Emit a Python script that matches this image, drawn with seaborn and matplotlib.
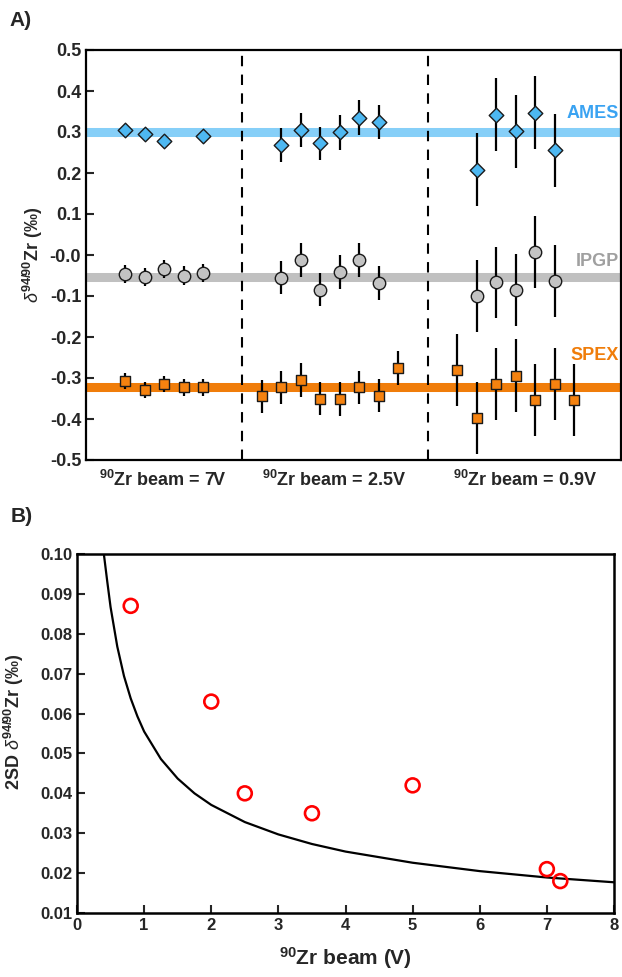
import numpy as np
import pandas as pd
import matplotlib
matplotlib.use("Agg")
import matplotlib.pyplot as plt
import seaborn as sns

# ---- panel A data: delta 94/90 Zr per run, three beam sizes ----
ames_run = [2, 3, 4, 6, 10, 11, 12, 13, 14, 15, 20, 21, 22, 23, 24]
ames_val = [0.305, 0.294, 0.277, 0.290,
            0.268, 0.305, 0.272, 0.299, 0.335, 0.324,
            0.208, 0.342, 0.302, 0.347, 0.255]
ames_err = [0.010, 0.010, 0.010, 0.010,
            0.041, 0.041, 0.040, 0.042, 0.042, 0.042,
            0.089, 0.089, 0.089, 0.089, 0.089]

ipgp_run = [2, 3, 4, 5, 6, 10, 11, 12, 13, 14, 15, 20, 21, 22, 23, 24]
ipgp_val = [-0.046, -0.053, -0.035, -0.050, -0.044,
            -0.055, -0.012, -0.085, -0.041, -0.012, -0.069,
            -0.100, -0.067, -0.085, 0.007, -0.063]
ipgp_err = [0.022, 0.022, 0.022, 0.022, 0.022,
            0.041, 0.041, 0.040, 0.041, 0.041, 0.041,
            0.087, 0.087, 0.087, 0.087, 0.087]

spex_run = [2, 3, 4, 5, 6, 9, 10, 11, 12, 13, 14, 15, 16, 19, 20, 21, 22, 23, 24, 25]
spex_val = [-0.307, -0.329, -0.315, -0.323, -0.323,
            -0.345, -0.323, -0.305, -0.350, -0.351, -0.323, -0.343, -0.275,
            -0.280, -0.398, -0.315, -0.294, -0.354, -0.315, -0.354]
spex_err = [0.020, 0.020, 0.020, 0.020, 0.020,
            0.041, 0.041, 0.041, 0.041, 0.041, 0.041, 0.041, 0.041,
            0.088, 0.088, 0.088, 0.088, 0.088, 0.088, 0.088]

lab_mean = {"AMES": 0.300, "IPGP": -0.054, "SPEX": -0.323}
beam_labels = [r"$^{\mathbf{90}}$Zr beam = 7V",
               r"$^{\mathbf{90}}$Zr beam = 2.5V",
               r"$^{\mathbf{90}}$Zr beam = 0.9V"]

# ---- panel B data: 2SD vs beam intensity ----
beam_v = [0.8, 2.0, 2.5, 3.5, 5.0, 7.0, 7.2]
sd2 = [0.087, 0.063, 0.040, 0.035, 0.042, 0.021, 0.018]

# theoretical curve
curve_x = [0.40, 0.45, 0.5, 0.6, 0.7, 0.8, 0.9, 1.0, 1.25, 1.5, 1.75,
           2.0, 2.5, 3.0, 3.5, 4.0, 5.0, 6.0, 7.0, 8.0]
curve_y = [0.100, 0.0932, 0.0867, 0.0768, 0.0694, 0.0638, 0.0593, 0.0555,
           0.0486, 0.0437, 0.0400, 0.0371, 0.0328, 0.0297, 0.0273, 0.0254,
           0.0226, 0.0205, 0.0189, 0.0177]

sns.set_theme(style="ticks")
plt.rcParams["font.family"] = ["Liberation Sans", "DejaVu Sans"]
plt.rcParams["mathtext.fontset"] = "custom"
plt.rcParams["mathtext.rm"] = "Liberation Sans"
plt.rcParams["mathtext.bf"] = "Liberation Sans:bold"
plt.rcParams["mathtext.it"] = "Liberation Sans:italic"

fig = plt.figure(figsize=(6.22, 9.77), dpi=100)
fig.patch.set_facecolor("white")

axA = fig.add_axes([86 / 622, 1 - 460 / 977, 535 / 622, 410 / 977])
axB = fig.add_axes([77 / 622, 1 - 913 / 977, 537 / 622, 359 / 977])

labs = [
    ("AMES", ames_run, ames_val, ames_err, "D", 55, "#4db8f2", "#86cff8", "#3aa3f2", 0.344),
    ("IPGP", ipgp_run, ipgp_val, ipgp_err, "o", 80, "#c3c3c3", "#c0c0c0", "#a0a0a0", -0.016),
    ("SPEX", spex_run, spex_val, spex_err, "s", 60, "#f5820f", "#f07d0a", "#f07d0a", -0.246),
]

for name, run, val, err, mk, size, fill, band, txt, ty in labs:
    df = pd.DataFrame({"run": run, "delta": val, "err": err})
    axA.axhline(lab_mean[name], color=band, lw=6.5, zorder=1)
    axA.errorbar(df["run"], df["delta"], yerr=df["err"], fmt="none",
                 ecolor="black", elinewidth=1.6, capsize=0, zorder=2)
    sns.scatterplot(data=df, x="run", y="delta", marker=mk, s=size,
                    color=fill, edgecolor="#1a1a1a", linewidth=1.0,
                    zorder=3, ax=axA, legend=False)
    axA.text(27.3, ty, name, ha="right", va="center", color=txt,
             fontsize=13, fontweight="bold")

for xv in [8, 17.5]:
    axA.axvline(xv, color="black", lw=1.5, ls=(0, (5, 4)), zorder=1)

axA.set_xlim(0, 27.4)
axA.set_ylim(-0.5, 0.5)
axA.set_yticks(np.arange(-0.5, 0.51, 0.1))
axA.set_yticklabels([f"{v:.1f}" for v in np.arange(-0.5, 0.51, 0.1)])
axA.set_xticks([3.95, 12.7, 22.5])
axA.set_xticklabels(beam_labels)
axA.tick_params(axis="x", length=0, pad=7, labelsize=13)
axA.tick_params(axis="y", direction="in", length=6, width=1.5, labelsize=13)
axA.set_xlabel("")
axA.set_ylabel(r"$\delta^{\mathbf{94/90}}$Zr (‰)", fontsize=13, fontweight="bold", labelpad=3)
for sp in axA.spines.values():
    sp.set_linewidth(1.6)
    sp.set_color("black")

# ---- panel B ----
sns.lineplot(x=curve_x, y=curve_y, color="black", lw=1.6, ax=axB)
sns.scatterplot(x=beam_v, y=sd2, marker="o", s=100, color="red",
                facecolor="none", edgecolor="red", linewidth=1.9,
                zorder=3, ax=axB, legend=False)
axB.set_xlim(0, 8)
axB.set_ylim(0.01, 0.10)
axB.set_xticks(range(0, 9))
axB.set_yticks(np.arange(0.01, 0.101, 0.01))
axB.set_yticklabels([f"{v:.2f}" for v in np.arange(0.01, 0.101, 0.01)])
axB.tick_params(direction="in", length=6, width=1.5, labelsize=12)
axB.set_xlabel(r"$^{\mathbf{90}}$Zr beam (V)", fontsize=15, fontweight="bold", labelpad=9)
axB.set_ylabel("")
for sp in axB.spines.values():
    sp.set_linewidth(1.8)
    sp.set_color("black")

for ax in (axA, axB):
    for lbl in ax.get_xticklabels() + ax.get_yticklabels():
        lbl.set_fontweight("bold")

fig.text(14 / 622, 1 - 722 / 977, r"2SD $\delta^{\mathbf{94/90}}$Zr (‰)",
         rotation=90, ha="center", va="center", fontsize=13, fontweight="bold")
fig.text(9 / 622, 1 - 21 / 977, "A)", fontsize=15, fontweight="bold", va="center")
fig.text(11 / 622, 1 - 517 / 977, "B)", fontsize=15, fontweight="bold", va="center")

fig.savefig("out.png", dpi=100, facecolor="white")
